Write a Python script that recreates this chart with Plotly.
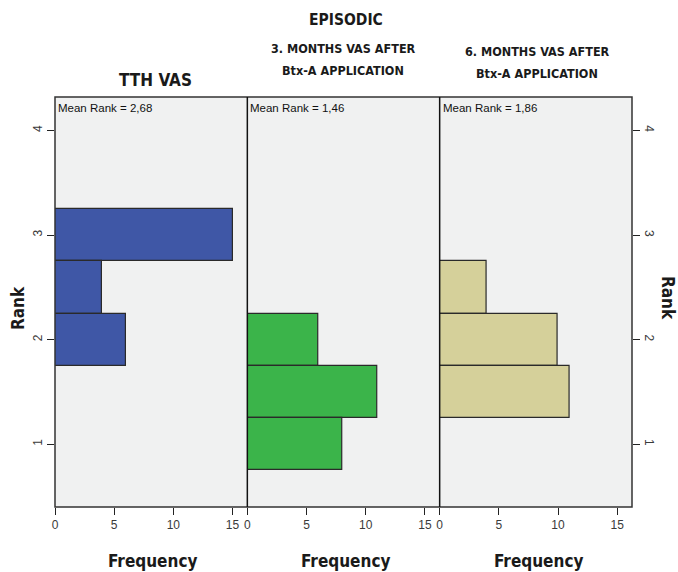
import plotly.graph_objects as go

ranks_tth = [3.0, 2.5, 2.0]
freq_tth = [15, 4, 6]
ranks_3m = [2.0, 1.5, 1.0]
freq_3m = [6, 11, 8]
ranks_6m = [2.5, 2.0, 1.5]
freq_6m = [4, 10, 11]
mean_ranks = ["Mean Rank = 2,68", "Mean Rank = 1,46", "Mean Rank = 1,86"]
x_ticks = [0, 5, 10, 15]
y_ticks = [1, 2, 3, 4]

colors = ["#3F57A6", "#3BB44A", "#D5D09A"]
data = [(ranks_tth, freq_tth), (ranks_3m, freq_3m), (ranks_6m, freq_6m)]

fig = go.Figure()
for i, (r, f) in enumerate(data):
    fig.add_trace(go.Bar(
        y=r, x=f, orientation="h", width=0.5,
        marker=dict(color=colors[i], line=dict(color="#2a2a2a", width=1.2)),
        xaxis="x" if i == 0 else f"x{i+1}", yaxis="y", showlegend=False,
        hoverinfo="x+y"))
# invisible trace for right axis
fig.add_trace(go.Scatter(x=[None], y=[None], xaxis="x3", yaxis="y2", showlegend=False, hoverinfo="skip"))

tickfont = dict(family="Liberation Sans, Arial", size=12, color="#3a3a3a")
xr = [0, 16.25]
yr = [0.4, 4.32]
ax_common = dict(range=xr, tickvals=x_ticks, ticks="outside", ticklen=7, tickcolor="#222",
                 showgrid=False, zeroline=False, showline=False, tickfont=tickfont, fixedrange=True)
fig.update_layout(
    width=678, height=572,
    margin=dict(l=55, r=46, t=97, b=65),
    paper_bgcolor="white", plot_bgcolor="#F0F1F1",
    bargap=0,
    xaxis=dict(domain=[0, 1/3], anchor="y", **ax_common),
    xaxis2=dict(domain=[1/3, 2/3], anchor="y", **ax_common),
    xaxis3=dict(domain=[2/3, 1], anchor="y", **ax_common),
    yaxis=dict(range=yr, tickvals=y_ticks, ticks="outside", ticklen=7, tickcolor="#222",
               showgrid=False, zeroline=False, showline=False, tickangle=-90,
               tickfont=tickfont, anchor="x", fixedrange=True),
    yaxis2=dict(range=yr, tickvals=y_ticks, ticks="outside", ticklen=7, tickcolor="#222",
                showgrid=False, zeroline=False, showline=False, tickangle=90,
                tickfont=tickfont, overlaying="y", side="right", anchor="x3", matches="y"),
)

shapes = [dict(type="rect", xref="paper", yref="paper", x0=0, x1=1, y0=0, y1=1,
               line=dict(color="#333", width=1.5))]
for xs in [1/3, 2/3]:
    shapes.append(dict(type="line", xref="paper", yref="paper", x0=xs, x1=xs, y0=0, y1=1,
                       line=dict(color="#111", width=1.5)))
fig.update_layout(shapes=shapes)

cond = "DejaVu Sans Condensed, Liberation Sans Narrow"
title_font = dict(family=cond, size=12.5, color="#1a1a1a")
ann = []
ann.append(dict(text="<b>EPISODIC</b>", x=346, y=20, font=dict(family=cond, size=15.5, color="#1a1a1a")))
ann.append(dict(text="<b>TTH VAS</b>", x=155, y=80, font=dict(family=cond, size=17, color="#1a1a1a")))
ann.append(dict(text="<b>3. MONTHS VAS AFTER</b>", x=343, y=49, font=title_font))
ann.append(dict(text="<b>Btx-A APPLICATION</b>", x=343, y=71, font=title_font))
ann.append(dict(text="<b>6. MONTHS VAS AFTER</b>", x=537, y=52, font=title_font))
ann.append(dict(text="<b>Btx-A APPLICATION</b>", x=537, y=74, font=title_font))
for i, m in enumerate(mean_ranks):
    ann.append(dict(text=m, x=[56, 248, 441][i], y=108, xanchor="left",
                    font=dict(family="Liberation Sans Narrow, Liberation Sans", size=11.5, color="#111")))
for xc in [152, 345, 538]:
    ann.append(dict(text="<b>Frequency</b>", x=xc, y=561,
                    font=dict(family=cond, size=17, color="#1a1a1a")))
ann.append(dict(text="<b>Rank</b>", x=18, y=308, textangle=-90,
                font=dict(family=cond, size=17, color="#1a1a1a")))
ann.append(dict(text="<b>Rank</b>", x=668, y=298, textangle=90,
                font=dict(family=cond, size=17, color="#1a1a1a")))

annotations = []
for a in ann:
    d = dict(xref="paper", yref="paper", showarrow=False,
             x=(a["x"] - 55) / (678 - 55 - 46), y=1 - (a["y"] - 97) / (572 - 97 - 65),
             text=a["text"], font=a["font"], xanchor=a.get("xanchor", "center"), yanchor="middle")
    if "textangle" in a:
        d["textangle"] = a["textangle"]
    annotations.append(d)
fig.update_layout(annotations=annotations)

fig.write_html("out.html", config={"displayModeBar": False},
               post_script="document.body.style.margin='0';document.body.style.overflow='hidden';")
